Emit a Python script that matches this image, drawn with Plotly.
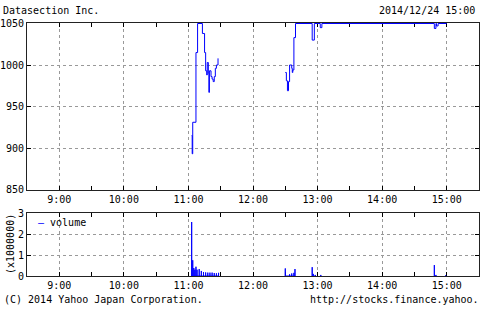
import plotly.graph_objects as go

DAY = "2014-12-24 "

# price (step line), morning and afternoon sessions
price_times_am = ["11:03:00", "11:03:30", "11:04:00", "11:07:00", "11:08:30", "11:13:00",
                  "11:15:00", "11:16:00", "11:17:00", "11:17:30", "11:18:30", "11:19:00",
                  "11:19:30", "11:21:00", "11:22:00", "11:23:00", "11:24:00", "11:25:00",
                  "11:26:00", "11:27:30"]
price_am = [915, 893, 931, 1015, 1050, 1038, 1015, 993, 988, 1003, 990, 967,
            993, 986, 983, 980, 986, 996, 1000, 1008]

price_times_pm = ["12:30:00", "12:31:00", "12:32:00", "12:33:00", "12:34:00", "12:36:00",
                  "12:36:30", "12:37:00", "12:38:00", "12:39:30", "12:55:00", "12:57:00",
                  "13:02:30", "13:04:00", "14:48:30", "14:50:00", "14:50:30", "14:52:00",
                  "15:00:00"]
price_pm = [991, 981, 969, 980, 1000, 996, 991, 994, 1033, 1050, 1030, 1050,
            1045, 1050, 1044, 1050, 1047, 1050, 1050]

# volume (in millions of shares); None marks a break in the impulse baseline
vol_times = ["11:03:00", "11:04:00", "11:05:00", "11:06:00", "11:07:00", "11:08:00",
             "11:10:00", "11:12:00", "11:14:00", "11:16:00", "11:18:00", "11:20:00",
             "11:22:00", "11:24:00", "11:26:00", "11:28:00", None,
             "12:30:00", "12:34:00", "12:36:00", "12:38:00", "12:39:00", None,
             "12:55:00", "12:56:00", "12:58:00", None,
             "13:03:00", None,
             "14:48:30", "14:50:00", None,
             "14:59:00"]
vol_m = [2.57, 0.75, 0.38, 0.3, 0.44, 0.3, 0.33, 0.24, 0.19, 0.17, 0.16, 0.16,
         0.16, 0.14, 0.13, 0.15, None,
         0.36, 0.08, 0.12, 0.15, 0.33, None,
         0.42, 0.1, 0.05, None,
         0.05, None,
         0.52, 0.05, None,
         0.03]

x_range = [DAY + "08:30", DAY + "15:30"]
price_range = [850, 1050.6]
price_ticks = [850, 900, 950, 1000, 1050]
vol_ticks = [0, 1, 2, 3]

BLUE = "#0000ff"
FONT = "DejaVu Sans Mono"

px = [DAY + t for t in price_times_am] + [None] + [DAY + t for t in price_times_pm]
py = price_am + [None] + price_pm

vx, vy = [], []
for t, v in zip(vol_times, vol_m):
    if t is None:
        vx.append(None)
        vy.append(None)
    else:
        vx += [DAY + t, DAY + t, DAY + t]
        vy += [0, v, 0]

fig = go.Figure()
fig.add_trace(go.Scatter(x=px, y=py, mode="lines", line=dict(color=BLUE, width=1, shape="hv"),
                         connectgaps=False, showlegend=False, xaxis="x", yaxis="y"))
fig.add_trace(go.Scatter(x=vx, y=vy, mode="lines", line=dict(color=BLUE, width=1),
                         connectgaps=False, name="volume", showlegend=False,
                         xaxis="x2", yaxis="y2"))

xdom = [27 / 480, 479 / 480]
common_x = dict(type="date", range=x_range, tick0=DAY + "09:00", dtick=3600000,
                tickformat="%-H:%M", ticks="inside", ticklen=4, tickcolor="#000",
                showline=True, linecolor="#222", linewidth=1, mirror="ticks",
                showgrid=True, gridcolor="#999", griddash="dot", gridwidth=1,
                zeroline=False, domain=xdom, layer="below traces", automargin=False,
                tickfont=dict(family=FONT, size=10, color="#000"),
                minor=dict(dtick=1800000, tick0=DAY + "08:30", ticks="inside", ticklen=4,
                           tickcolor="#000", showgrid=False))
common_y = dict(ticks="inside", ticklen=4, tickcolor="#000", showline=True, linecolor="#222",
                linewidth=1, mirror="ticks", showgrid=True, gridcolor="#999", griddash="dot",
                gridwidth=1, zeroline=False, layer="below traces", automargin=False,
                tickfont=dict(family=FONT, size=10, color="#000"))

fig.update_layout(
    width=480, height=315, margin=dict(l=0, r=0, t=0, b=0, pad=0, autoexpand=False),
    paper_bgcolor="white", plot_bgcolor="white", showlegend=False,
    xaxis=dict(common_x, anchor="y"),
    yaxis=dict(common_y, domain=[1 - 189.5 / 315, 1 - 23 / 315], range=price_range,
               tickvals=price_ticks, anchor="x"),
    xaxis2=dict(common_x, anchor="y2"),
    yaxis2=dict(common_y, domain=[1 - 276 / 315, 1 - 213 / 315], range=[0, 3],
                tickvals=vol_ticks, anchor="x2"),
    font=dict(family=FONT, size=10, color="#000"),
)

ann = [
    dict(text="Datasection Inc.", x=2 / 480, y=1 - 10 / 315, xanchor="left"),
    dict(text="2014/12/24 15:00", x=476 / 480, y=1 - 10 / 315, xanchor="right"),
    dict(text="(C) 2014 Yahoo Japan Corporation.", x=3 / 480, y=1 - 299 / 315, xanchor="left"),
    dict(text="http://stocks.finance.yahoo.", x=480 / 480, y=1 - 299 / 315, xanchor="right"),
    dict(text="(x1000000)", x=10 / 480, y=1 - 244 / 315, textangle=-90, xanchor="center"),
    dict(text="<span style='color:#0000ff'>\u2014</span> volume", x=37 / 480, y=1 - 222 / 315,
         xanchor="left"),
]
for a in ann:
    fig.add_annotation(xref="paper", yref="paper", showarrow=False, yanchor="middle",
                       font=dict(family=FONT, size=10, color="#000"), borderpad=0, **a)

fig.write_html("out.html")
